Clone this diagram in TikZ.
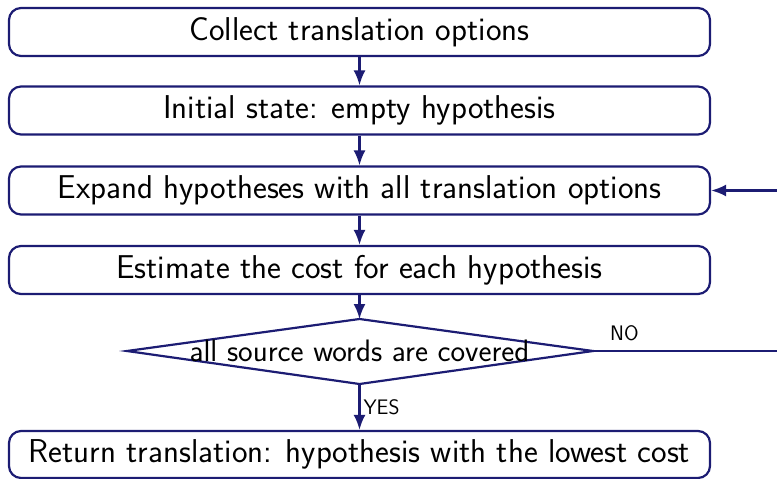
\documentclass[tikz,border=0pt]{standalone}
\usetikzlibrary{arrows.meta}
\definecolor{navy}{RGB}{28,28,115}
\begin{document}
\begin{tikzpicture}[x=1pt,y=-1pt,line width=2.2pt,
  box/.style={draw=navy, rounded corners=12pt, minimum width=701pt, minimum height=48pt, inner sep=0pt, text=black, font=\sffamily\fontsize{33}{38}\selectfont},
  arr/.style={draw=navy, -{Latex[length=15pt,width=12pt]}},
  dtext/.style={text=black, inner sep=0pt, font=\sffamily\fontsize{31}{36}\selectfont},
  lbl/.style={text=black, inner sep=0pt, font=\sffamily\fontsize{21}{25}\selectfont}]
\useasboundingbox (0,0) rectangle (777,479);
\clip (0,0) rectangle (777,479);
\node[box] (b1) at (359.5,32) {Collect translation options};
\node[box] (b2) at (359.5,110.5) {Initial state: empty hypothesis};
\node[box] (b3) at (359.5,190.5) {Expand hypotheses with all translation options};
\node[box] (b4) at (359.5,270) {Estimate the cost for each hypothesis};
\coordinate (dT) at (359.5,319);
\coordinate (dR) at (593,351);
\coordinate (dB) at (359.5,384);
\coordinate (dL) at (127,351);
\draw[navy] (dT) -- (dR) -- (dB) -- (dL) -- cycle;
\node[dtext] (d) at (359.5,351) {all source words are covered};
\node[box, minimum height=47pt] (b6) at (359.5,454.5) {Return translation: hypothesis with the lowest cost};
\coordinate (loopR) at (800,351);
\coordinate (loopT) at (800,190.5);
\draw[arr] (b1) -- (b2);
\draw[arr] (b2) -- (b3);
\draw[arr] (b3) -- (b4);
\draw[arr] (b4) -- (dT);
\draw[arr] (dB) -- node[lbl, right=3pt] (yes) {YES} (b6);
\draw[navy] (dR) -- node[lbl, anchor=south west, pos=0, xshift=16pt, yshift=9pt] (no) {NO} (loopR);
\draw[arr] (loopR) -- (loopT) -- (b3.east);
\end{tikzpicture}
\end{document}
